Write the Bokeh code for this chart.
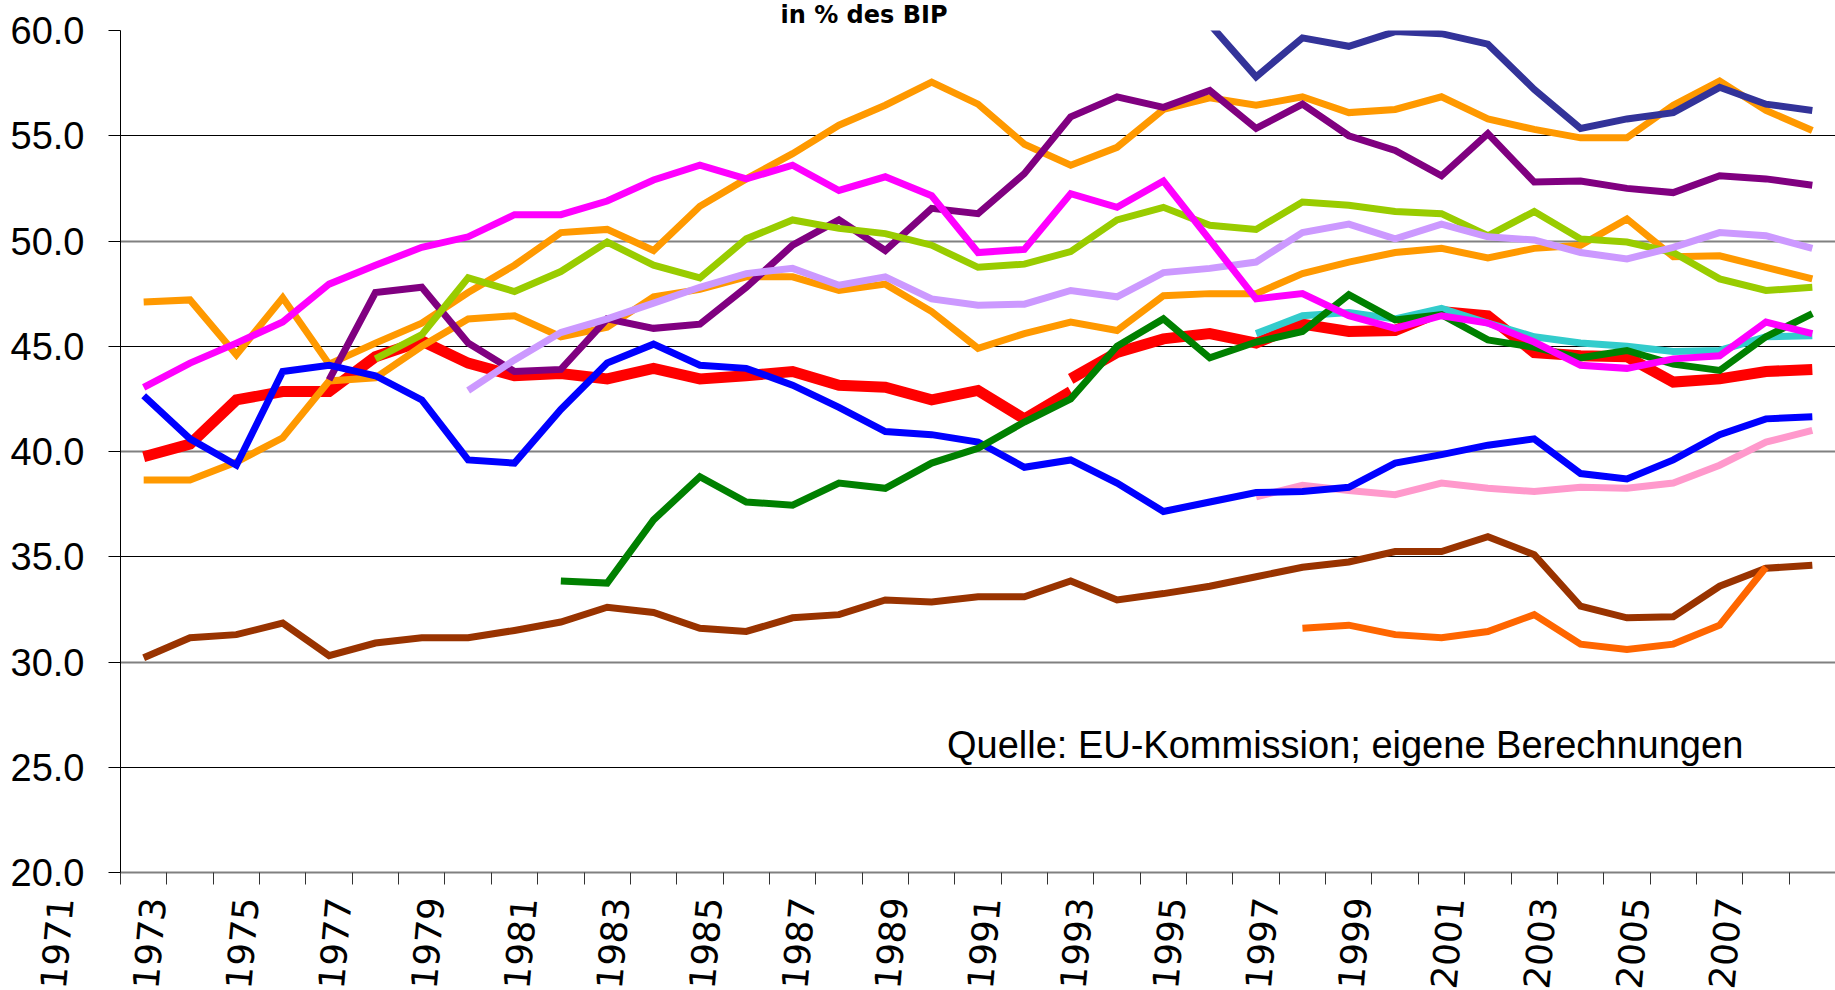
from bokeh.plotting import figure
from bokeh.layouts import column
from bokeh.models import Range1d, FixedTicker, NumeralTickFormatter, Grid, Label, Title
from bokeh.embed import file_html
from bokeh.resources import INLINE
from bokeh.core.properties import value

# ---------------- data ----------------
first_year = 1971
last_year = 2007
label_years = list(range(1971, 2008, 2))
label_texts = [str(y) for y in label_years]
y_ticks = [20, 25, 30, 35, 40, 45, 50, 55, 60]
title_text = "in % des BIP"
source_text = "Quelle: EU-Kommission; eigene Berechnungen"

navy_start = 1994
navy = [60.3, 57.8, 59.65, 59.25, 59.95, 59.85, 59.35, 57.2, 55.35, 55.8,
        56.1, 57.3, 56.5, 56.2]

orange_a_start = 1971
orange_a = [47.1, 47.2, 44.6, 47.3, 44.15, 45.15, 46.1, 47.55, 48.85, 50.4,
            50.55, 49.55, 51.65, 52.95, 54.15, 55.5, 56.45, 57.55, 56.5, 54.6,
            53.6, 54.45, 56.25, 56.8, 56.45, 56.85, 56.1, 56.25, 56.85, 55.8,
            55.3, 54.9, 54.9, 56.45, 57.6, 56.2, 55.25]

orange_b_start = 1971
orange_b = [38.65, 38.65, 39.5, 40.65, 43.35, 43.5, 45.0, 46.3, 46.45, 45.45,
            45.9, 47.35, 47.7, 48.3, 48.3, 47.65, 47.95, 46.65, 44.9, 45.6,
            46.15, 45.75, 47.4, 47.5, 47.5, 48.45, 49.0, 49.45, 49.65, 49.2,
            49.65, 49.8, 51.05, 49.25, 49.3, 48.75, 48.2]

purple_start = 1975
purple = [43.4, 47.55, 47.8, 45.15, 43.8, 43.9, 46.3, 45.85, 46.05, 47.8,
          49.8, 51.0, 49.55, 51.55, 51.3, 53.2, 55.9, 56.85, 56.35, 57.15,
          55.35, 56.5, 55.0, 54.3, 53.1, 55.1, 52.8, 52.85, 52.5, 52.3,
          53.1, 52.95, 52.65]

magenta_start = 1971
magenta = [43.05, 44.2, 45.15, 46.15, 47.95, 48.85, 49.7, 50.2, 51.25, 51.25,
           51.9, 52.9, 53.6, 52.95, 53.6, 52.4, 53.05, 52.15, 49.45, 49.6,
           52.25, 51.6, 52.85, 50.05, 47.25, 47.5, 46.45, 45.85, 46.45, 46.1,
           45.2, 44.1, 43.95, 44.4, 44.55, 46.15, 45.6]

ygreen_start = 1976
ygreen = [44.4, 45.55, 48.25, 47.6, 48.55, 49.95, 48.85, 48.25, 50.1, 51.0,
          50.6, 50.35, 49.8, 48.75, 48.9, 49.5, 51.0, 51.6, 50.75, 50.55,
          51.85, 51.7, 51.4, 51.3, 50.25, 51.4, 50.1, 49.95, 49.45, 48.2,
          47.65, 47.8]

lavender_start = 1978
lavender = [42.9, 44.35, 45.65, 46.3, 47.05, 47.8, 48.45, 48.7, 47.9, 48.3,
            47.25, 46.95, 47.0, 47.65, 47.35, 48.5, 48.7, 49.0, 50.4, 50.8,
            50.1, 50.8, 50.2, 50.05, 49.45, 49.15, 49.7, 50.4, 50.25, 49.65]

red_west_start = 1971
red_west = [39.75, 40.35, 42.45, 42.85, 42.85, 44.5, 45.25, 44.2, 43.6, 43.7,
            43.45, 43.95, 43.45, 43.6, 43.8, 43.15, 43.05, 42.45, 42.9, 41.55,
            42.85]

red_unified_start = 1991
red_unified = [43.45, 44.7, 45.35, 45.6, 45.15, 46.05, 45.7, 45.75, 46.65, 46.45,
               44.7, 44.55, 44.5, 43.3, 43.45, 43.8, 43.9]

blue_start = 1971
blue = [42.65, 40.6, 39.35, 43.8, 44.1, 43.6, 42.45, 39.6, 39.45, 42.0,
        44.2, 45.1, 44.1, 43.95, 43.15, 42.1, 40.95, 40.8, 40.45, 39.25,
        39.6, 38.5, 37.15, 37.6, 38.05, 38.1, 38.3, 39.45, 39.85, 40.3,
        40.6, 38.95, 38.7, 39.6, 40.8, 41.55, 41.65]

green_start = 1980
green = [33.85, 33.75, 36.75, 38.8, 37.6, 37.45, 38.5, 38.25, 39.45, 40.15,
         41.4, 42.5, 45.0, 46.3, 44.45, 45.2, 45.7, 47.45, 46.25, 46.5,
         45.3, 44.95, 44.45, 44.8, 44.15, 43.85, 45.45, 46.55]

brown_start = 1971
brown = [30.2, 31.15, 31.3, 31.85, 30.3, 30.9, 31.15, 31.15, 31.5, 31.9,
         32.6, 32.35, 31.6, 31.45, 32.1, 32.25, 32.95, 32.85, 33.1, 33.1,
         33.85, 32.95, 33.25, 33.6, 34.05, 34.5, 34.75, 35.25, 35.25, 35.95,
         35.1, 32.65, 32.1, 32.15, 33.6, 34.45, 34.6]

dorange_start = 1996
dorange = [31.6, 31.75, 31.3, 31.15, 31.45, 32.25, 30.85, 30.6, 30.85, 31.75,
           34.5]

pink_start = 1995
pink = [37.85, 38.4, 38.15, 37.95, 38.5, 38.25, 38.1, 38.3, 38.25, 38.5,
        39.35, 40.45, 41.0]

cyan_start = 1995
cyan = [45.6, 46.45, 46.6, 46.3, 46.8, 46.1, 45.45, 45.15, 45.0, 44.75,
        44.8, 45.45, 45.5]

# -------------- layout constants (pixels) ---------------
W = 1835
FRAME_LEFT = 120
FRAME_TOP = 28
FRAME_BOTTOM = 872
MAIN_H = 896
LAB_H = 990 - MAIN_H
LABEL_TOP = 897
x_start, x_end = first_year - 0.5, last_year + 0.5
px_per_year = (W - FRAME_LEFT) / (x_end - x_start)

# -------------- main figure ---------------
p = figure(width=W, height=MAIN_H,
           x_range=Range1d(x_start, x_end),
           y_range=Range1d(20, 60),
           output_backend="svg", toolbar_location=None,
           min_border_left=FRAME_LEFT, min_border_right=0,
           min_border_top=FRAME_TOP, min_border_bottom=MAIN_H - FRAME_BOTTOM)
p.outline_line_color = None
p.background_fill_color = "white"
p.border_fill_color = "white"

p.title = Title(text=title_text, align="left", vertical_align="top",
                offset=660, standoff=0,
                text_font="DejaVu Sans", text_font_size="24px",
                text_font_style="bold", text_color="black")

# grid
p.xgrid.visible = False
p.ygrid.ticker = FixedTicker(ticks=[20, 30, 40, 50, 60])
p.ygrid.grid_line_color = "#808080"
p.ygrid.grid_line_width = 2
p.add_layout(Grid(dimension=1, ticker=FixedTicker(ticks=[25, 35, 45, 55]),
                  grid_line_color="black", grid_line_width=1))

# y axis
p.yaxis.ticker = FixedTicker(ticks=y_ticks)
p.yaxis.formatter = NumeralTickFormatter(format="0.0")
p.yaxis.major_tick_out = 12
p.yaxis.major_tick_in = 0
p.yaxis.minor_tick_out = 0
p.yaxis.minor_tick_in = 0
p.yaxis.major_label_standoff = 24
p.yaxis.major_label_text_font = "Liberation Sans"
p.yaxis.major_label_text_font_size = "38px"
p.yaxis.major_label_text_color = "black"
p.yaxis.axis_line_color = "black"
p.yaxis.major_tick_line_color = "black"

# x axis: ticks between categories; year labels are in the strip below
boundaries = [y - 0.5 for y in range(first_year, last_year + 2)]
p.xaxis.ticker = FixedTicker(ticks=boundaries)
p.xaxis.major_label_text_color = None
p.xaxis.major_label_text_font_size = "0px"
p.xaxis.major_label_standoff = 0
p.xaxis.major_tick_out = 12
p.xaxis.major_tick_in = 0
p.xaxis.minor_tick_out = 0
p.xaxis.minor_tick_in = 0
p.xaxis.axis_line_color = "#808080"
p.xaxis.axis_line_width = 2
p.xaxis.major_tick_line_color = "#333333"

def yrs(start, vals):
    return list(range(start, start + len(vals)))

series = [
    (red_west_start, red_west, "#FF0000", 11),
    (red_unified_start, red_unified, "#FF0000", 11),
    (orange_a_start, orange_a, "#FF9900", 7),
    (orange_b_start, orange_b, "#FF9900", 7),
    (navy_start, navy, "#333399", 7),
    (purple_start, purple, "#800080", 7),
    (ygreen_start, ygreen, "#99CC00", 7),
    (lavender_start, lavender, "#CC99FF", 7),
    (pink_start, pink, "#FF99CC", 7),
    (blue_start, blue, "#0000FF", 7),
    (brown_start, brown, "#993300", 7),
    (dorange_start, dorange, "#FF6600", 7),
    (cyan_start, cyan, "#33CCCC", 7),
    (green_start, green, "#008000", 7),
    (magenta_start, magenta, "#FF00FF", 7),
]
for start, vals, col, lw in series:
    p.line(yrs(start, vals), vals, line_color=col, line_width=lw, line_join="miter")

# source note
p.add_layout(Label(x=1988.33, y=26.05, text=source_text, text_font="Liberation Sans",
                   text_font_size="38px", text_color="black",
                   text_align="left", text_baseline="alphabetic"))

# -------------- year-label strip (same x scale as the main chart) ---------------
lab_x_start = x_start - FRAME_LEFT / px_per_year
q = figure(width=W, height=LAB_H,
           x_range=Range1d(lab_x_start, x_end),
           y_range=Range1d(LAB_H, 0),
           output_backend="svg", toolbar_location=None,
           x_axis_location=None, y_axis_location=None,
           min_border=0, min_border_left=0, min_border_right=0,
           min_border_top=0, min_border_bottom=0)
q.outline_line_color = None
q.xgrid.visible = False
q.ygrid.visible = False
q.background_fill_color = "white"
q.border_fill_color = "white"
q.text(x=label_years, y=LABEL_TOP - MAIN_H, text=label_texts, angle=1.4835,
       x_offset=-83, text_align="right", text_baseline="middle",
       text_font=value("DejaVu Sans"), text_font_size=value("36px"),
       text_color="black")

# keep each plot's own frame (do not align frames across the column)
for fig in (p, q):
    try:
        fig.frame_align = False
    except Exception:
        pass

layout = column(p, q, spacing=0)
open("out.html", "w").write(file_html(layout, INLINE))
